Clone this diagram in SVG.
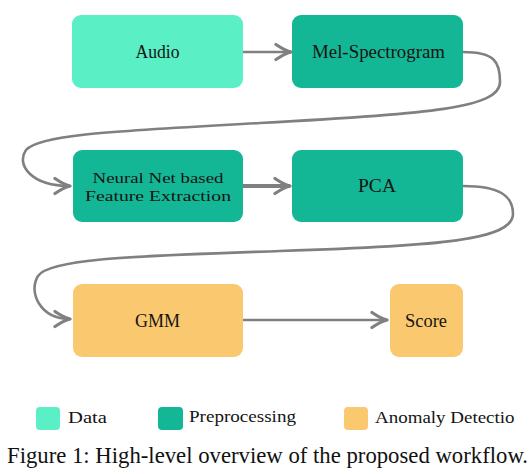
<svg xmlns="http://www.w3.org/2000/svg" width="531" height="474" viewBox="0 0 531 474">
<style>
.data{fill:#5BEFC5}
.pre{fill:#14B795}
.anom{fill:#FAC86F}
.lbl{font-family:"Liberation Serif","Times New Roman",serif;font-size:18px;fill:#141414;text-anchor:middle}
.lbl2{font-family:"Liberation Serif","Times New Roman",serif;font-size:15.5px;fill:#141414;text-anchor:middle}
.leg{font-family:"Liberation Serif","Times New Roman",serif;font-size:17.5px;fill:#141414}
.cap{font-family:"Liberation Serif","Times New Roman",serif;font-size:22.6px;fill:#111}
.edge{fill:none;stroke:#808080;stroke-width:2.6}
</style>
<defs>
<marker id="arr" markerUnits="userSpaceOnUse" markerWidth="20" markerHeight="20" viewBox="-14 -8 16 16" refX="0" refY="0" orient="auto">
<path d="M-12,-6 Q-5,-1.2 0,0 Q-5,1.2 -12,6" fill="none" stroke="#808080" stroke-width="2.6" stroke-linecap="round" stroke-linejoin="round"/>
</marker>
<clipPath id="legclip"><rect x="0" y="390" width="515" height="50"/></clipPath>
</defs>
<rect width="531" height="474" fill="#fff"/>
<g id="connectors">
<path class="edge" d="M243,52 L291,52" marker-end="url(#arr)"/>
<path class="edge" d="M463,52 C495,52 500,62 500,82 C500,108 430,114 260,123 C120,131 40,134 26,150 C16,164 30,186 70,186" marker-end="url(#arr)"/>
<path class="edge" style="stroke-width:4" d="M243,186 L290,186" marker-end="url(#arr)"/>
<path class="edge" d="M463,186 C500,186 513,196 513,214 C513,240 440,246 280,251 C140,256 50,258 38,276 C28,292 40,319 70,319" marker-end="url(#arr)"/>
<path class="edge" d="M243,320 L387,320" marker-end="url(#arr)"/>
</g>
<g id="node-audio">
<rect class="data" x="72" y="15" width="171" height="73" rx="9"/>
<text class="lbl" x="157.5" y="58" textLength="44" lengthAdjust="spacingAndGlyphs">Audio</text>
</g>
<g id="node-mel">
<rect class="pre" x="292" y="15" width="171" height="73" rx="9"/>
<text class="lbl" x="378.5" y="58" textLength="133" lengthAdjust="spacingAndGlyphs">Mel-Spectrogram</text>
</g>
<g id="node-nn">
<rect class="pre" x="73" y="150" width="170" height="72" rx="9"/>
<text class="lbl2" x="158" y="182.5" textLength="131" lengthAdjust="spacingAndGlyphs">Neural Net based</text>
<text class="lbl2" x="158" y="200.5" textLength="146" lengthAdjust="spacingAndGlyphs">Feature Extraction</text>
</g>
<g id="node-pca">
<rect class="pre" x="292" y="150" width="171" height="72" rx="9"/>
<text class="lbl" x="377" y="192" textLength="38" lengthAdjust="spacingAndGlyphs">PCA</text>
</g>
<g id="node-gmm">
<rect class="anom" x="73" y="284" width="170" height="73" rx="9"/>
<text class="lbl" x="157.5" y="327" textLength="45" lengthAdjust="spacingAndGlyphs">GMM</text>
</g>
<g id="node-score">
<rect class="anom" x="390" y="284" width="73" height="73" rx="9"/>
<text class="lbl" x="426" y="327" textLength="42" lengthAdjust="spacingAndGlyphs">Score</text>
</g>
<g id="legend">
<rect class="data" x="36" y="407" width="24" height="23" rx="4"/>
<text class="leg" x="68" y="423" textLength="39" lengthAdjust="spacingAndGlyphs">Data</text>
<rect class="pre" x="158" y="407" width="25" height="23" rx="4"/>
<text class="leg" x="189" y="422" textLength="107" lengthAdjust="spacingAndGlyphs">Preprocessing</text>
<rect class="anom" x="344" y="407" width="24" height="23" rx="4"/>
<g clip-path="url(#legclip)">
<text class="leg" x="375" y="423" textLength="149" lengthAdjust="spacingAndGlyphs">Anomaly Detection</text>
</g>
</g>
<text class="cap" x="7" y="463" textLength="521" lengthAdjust="spacingAndGlyphs">Figure 1: High-level overview of the proposed workflow.</text>
</svg>
